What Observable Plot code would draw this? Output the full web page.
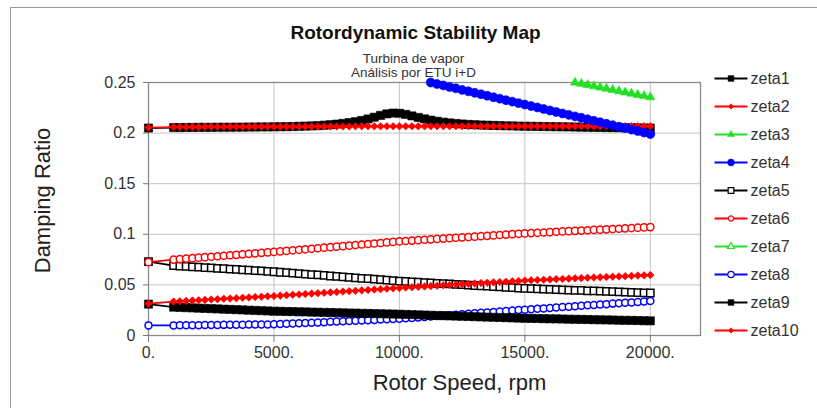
<!DOCTYPE html>
<html>
<head>
<meta charset="utf-8">
<script src="https://cdn.jsdelivr.net/npm/d3@7"></script>
<script src="https://cdn.jsdelivr.net/npm/@observablehq/plot@0.6"></script>
<style>
  body { margin: 0; background: #fff; }
  #wrap { position: relative; width: 817px; height: 408px; overflow: hidden; background: #fff; font-family: "Liberation Sans", Arial, sans-serif; }
  #border { position: absolute; left: 10px; top: 7px; width: 900px; height: 500px; border: 1px solid #9a9a9a; }
  #main { position: absolute; left: 0; top: 0; }
  #legend { position: absolute; left: 700px; top: 60px; }
</style>
</head>
<body>
<div id="wrap"><div id="border"></div><div id="main"></div><div id="legend"></div></div>
<script>
// ---- data ----
const seriesNames = ["zeta1","zeta2","zeta3","zeta4","zeta5","zeta6","zeta7","zeta8","zeta9","zeta10"];
const xTicks = [0, 5000, 10000, 15000, 20000];
const yTicks = [0, 0.05, 0.1, 0.15, 0.2, 0.25];

const rpm = [0,
  1000,1250,1500,1750,2000,2250,2500,2750,3000,3250,3500,3750,4000,4250,4500,4750,5000,
  5250,5500,5750,6000,6250,6500,6750,7000,7250,7500,7750,8000,8250,8500,8750,9000,9250,9500,9750,10000,
  10250,10500,10750,11000,11250,11500,11750,12000,12250,12500,12750,13000,13250,13500,13750,14000,14250,14500,14750,15000,
  15250,15500,15750,16000,16250,16500,16750,17000,17250,17500,17750,18000,18250,18500,18750,19000,19250,19500,19750,20000];

// series values; shorter arrays belong to the last rpm values
const zeta1 = [0.2050,
  0.2055,0.2055,0.2056,0.2056,0.2057,0.2057,0.2057,0.2058,0.2058,0.2058,0.2059,0.2059,0.2060,0.2060,0.2061,0.2061,0.2062,
  0.2063,0.2064,0.2065,0.2067,0.2069,0.2071,0.2074,0.2078,0.2083,0.2089,0.2096,0.2104,0.2113,0.2125,0.2140,0.2157,0.2175,0.2190,0.2198,0.2196,
  0.2185,0.2170,0.2155,0.2141,0.2128,0.2117,0.2108,0.2101,0.2095,0.2090,0.2086,0.2083,0.2080,0.2078,0.2076,0.2074,0.2072,0.2071,0.2069,0.2068,
  0.2067,0.2066,0.2065,0.2064,0.2063,0.2062,0.2061,0.2060,0.2059,0.2058,0.2057,0.2056,0.2055,0.2054,0.2053,0.2052,0.2052,0.2051,0.2050,0.2050];
const zeta2 = [0.2055,
  0.2060,0.2060,0.2061,0.2061,0.2061,0.2062,0.2062,0.2062,0.2062,0.2063,0.2063,0.2063,0.2063,0.2064,0.2064,0.2064,0.2064,
  0.2064,0.2065,0.2065,0.2065,0.2065,0.2065,0.2066,0.2066,0.2066,0.2066,0.2066,0.2066,0.2067,0.2067,0.2067,0.2067,0.2067,0.2067,0.2067,0.2067,
  0.2067,0.2067,0.2067,0.2067,0.2068,0.2068,0.2068,0.2068,0.2068,0.2068,0.2068,0.2068,0.2068,0.2068,0.2068,0.2068,0.2068,0.2068,0.2068,0.2068,
  0.2068,0.2068,0.2068,0.2068,0.2068,0.2068,0.2068,0.2068,0.2068,0.2068,0.2068,0.2068,0.2068,0.2068,0.2068,0.2068,0.2068,0.2068,0.2068,0.2068];
const zeta3 = [0.2500,0.2488,0.2476,0.2464,0.2452,0.2440,0.2428,0.2415,0.2403,0.2391,0.2379,0.2367,0.2355];
const zeta4 = [0.2500,0.2485,0.2471,0.2456,0.2442,0.2427,0.2413,0.2398,0.2384,0.2369,0.2354,0.2340,0.2325,0.2311,0.2296,0.2282,0.2267,0.2253,
  0.2238,0.2223,0.2209,0.2194,0.2180,0.2165,0.2151,0.2136,0.2122,0.2107,0.2092,0.2078,0.2063,0.2049,0.2034,0.2020,0.2005,0.1990];
const zeta5 = [0.0730,
  0.0690,0.0686,0.0683,0.0679,0.0675,0.0671,0.0668,0.0664,0.0660,0.0656,0.0653,0.0649,0.0645,0.0641,0.0638,0.0634,0.0630,
  0.0625,0.0621,0.0616,0.0611,0.0607,0.0602,0.0598,0.0593,0.0588,0.0584,0.0579,0.0574,0.0570,0.0565,0.0561,0.0556,0.0552,0.0547,0.0543,0.0538,
  0.0534,0.0531,0.0527,0.0523,0.0520,0.0516,0.0512,0.0509,0.0505,0.0502,0.0498,0.0494,0.0491,0.0487,0.0483,0.0480,0.0476,0.0472,0.0469,0.0465,
  0.0463,0.0460,0.0458,0.0456,0.0454,0.0451,0.0449,0.0447,0.0445,0.0442,0.0440,0.0438,0.0436,0.0433,0.0431,0.0429,0.0427,0.0424,0.0422,0.0420];
const zeta6 = [0.0725,
  0.0750,0.0755,0.0760,0.0764,0.0769,0.0774,0.0778,0.0783,0.0788,0.0793,0.0797,0.0802,0.0807,0.0812,0.0816,0.0821,0.0826,
  0.0831,0.0836,0.0842,0.0847,0.0852,0.0857,0.0862,0.0868,0.0873,0.0878,0.0883,0.0888,0.0894,0.0899,0.0904,0.0909,0.0914,0.0920,0.0925,0.0930,
  0.0934,0.0938,0.0942,0.0946,0.0950,0.0954,0.0958,0.0962,0.0966,0.0970,0.0973,0.0977,0.0981,0.0985,0.0989,0.0993,0.0997,0.1001,0.1005,0.1009,
  0.1012,0.1015,0.1018,0.1021,0.1025,0.1028,0.1031,0.1034,0.1037,0.1040,0.1043,0.1046,0.1049,0.1052,0.1055,0.1059,0.1062,0.1065,0.1068,0.1071];
const zeta7 = []; // listed in the legend, no visible points in range
const zeta8 = [0.0100,
  0.0100,0.0101,0.0101,0.0102,0.0102,0.0103,0.0104,0.0104,0.0105,0.0106,0.0106,0.0107,0.0108,0.0108,0.0109,0.0109,0.0110,
  0.0113,0.0115,0.0118,0.0121,0.0124,0.0127,0.0129,0.0132,0.0135,0.0138,0.0140,0.0143,0.0146,0.0149,0.0151,0.0154,0.0157,0.0160,0.0162,0.0165,
  0.0170,0.0174,0.0179,0.0183,0.0188,0.0192,0.0197,0.0201,0.0206,0.0210,0.0215,0.0219,0.0224,0.0228,0.0233,0.0237,0.0242,0.0246,0.0251,0.0255,
  0.0259,0.0264,0.0268,0.0272,0.0276,0.0281,0.0285,0.0289,0.0293,0.0298,0.0302,0.0306,0.0310,0.0315,0.0319,0.0323,0.0327,0.0332,0.0336,0.0340];
const zeta9 = [0.0310,
  0.0280,0.0278,0.0275,0.0273,0.0270,0.0268,0.0265,0.0263,0.0260,0.0258,0.0255,0.0253,0.0250,0.0248,0.0245,0.0243,0.0240,
  0.0239,0.0237,0.0236,0.0234,0.0233,0.0231,0.0230,0.0228,0.0227,0.0225,0.0224,0.0222,0.0221,0.0219,0.0218,0.0216,0.0215,0.0213,0.0212,0.0210,
  0.0208,0.0206,0.0204,0.0202,0.0200,0.0198,0.0196,0.0194,0.0192,0.0190,0.0188,0.0186,0.0184,0.0182,0.0180,0.0178,0.0176,0.0174,0.0172,0.0170,
  0.0169,0.0168,0.0166,0.0165,0.0164,0.0163,0.0161,0.0160,0.0159,0.0158,0.0156,0.0155,0.0154,0.0153,0.0151,0.0150,0.0149,0.0148,0.0146,0.0145];
const zeta10 = [0.0315,
  0.0335,0.0338,0.0342,0.0345,0.0349,0.0352,0.0356,0.0359,0.0363,0.0366,0.0369,0.0373,0.0376,0.0380,0.0383,0.0387,0.0390,
  0.0394,0.0398,0.0402,0.0406,0.0410,0.0414,0.0418,0.0422,0.0426,0.0430,0.0434,0.0438,0.0442,0.0446,0.0450,0.0454,0.0458,0.0462,0.0466,0.0470,
  0.0474,0.0477,0.0481,0.0485,0.0488,0.0492,0.0496,0.0499,0.0503,0.0507,0.0510,0.0514,0.0518,0.0521,0.0525,0.0528,0.0532,0.0536,0.0539,0.0543,
  0.0546,0.0548,0.0551,0.0554,0.0557,0.0559,0.0562,0.0565,0.0567,0.0570,0.0573,0.0576,0.0578,0.0581,0.0584,0.0586,0.0589,0.0592,0.0594,0.0597];

const seriesValues = [zeta1, zeta2, zeta3, zeta4, zeta5, zeta6, zeta7, zeta8, zeta9, zeta10];

// ---- styles ----
const RED = "#ff0000", BLUE = "#0000ff", GREEN = "#22e022", BLACK = "#000000";
const styles = [
  {color: BLACK, symbol: "square", open: false, r: 4.6, lr: 3.2},
  {color: RED, symbol: "diamond2", open: false, r: 3.4, lr: 2.4},
  {color: GREEN, symbol: "triangle", open: false, r: 3.4, lr: 2.6},
  {color: BLUE, symbol: "circle", open: false, r: 4.5, lr: 3.4},
  {color: BLACK, symbol: "square", open: true, r: 4.1, lr: 3.2},
  {color: RED, symbol: "circle", open: true, r: 3.6, lr: 2.6},
  {color: GREEN, symbol: "triangle", open: true, r: 3.2, lr: 2.6},
  {color: BLUE, symbol: "circle", open: true, r: 3.5, lr: 3.2},
  {color: BLACK, symbol: "square", open: false, r: 4.6, lr: 3.2},
  {color: RED, symbol: "diamond2", open: false, r: 3.4, lr: 2.4}
];

seriesValues.forEach((v, i) => {
  if (v.length > rpm.length) throw new Error(seriesNames[i] + " too long: " + v.length);
});
if (rpm.length !== 78 || zeta1.length !== 78 || zeta5.length !== 78) throw new Error("length mismatch");

const seriesData = seriesNames.map((name, i) => {
  const vals = seriesValues[i];
  const off = rpm.length - vals.length;
  return vals.map((v, j) => ({series: name, rpm: rpm[off + j], value: v}));
});

const FONT = "'Liberation Sans', Arial, sans-serif";
const fx = 148, fy = 82; // frame origin, used only to place titles relative to frame

const marks = [
  Plot.gridX(xTicks, {stroke: "#c4c4c4", strokeOpacity: 1, strokeWidth: 1}),
  Plot.gridY(yTicks, {stroke: "#c4c4c4", strokeOpacity: 1, strokeWidth: 1}),
  Plot.frame({stroke: "#8a8a8a", strokeWidth: 1.3})
];
seriesData.forEach((rows, i) => {
  const s = styles[i];
  if (!rows.length) return;
  marks.push(Plot.line(rows, {x: "rpm", y: "value", stroke: s.color, strokeWidth: 1.8}));
  marks.push(Plot.dot(rows, {
    x: "rpm", y: "value", symbol: () => s.symbol, r: s.r,
    fill: s.open ? "#ffffff" : s.color,
    stroke: s.color, strokeWidth: s.open ? 1.5 : 0.6
  }));
});
const T = {frameAnchor: "top-left", lineAnchor: "middle", text: d => d};
marks.push(
  Plot.axisX(xTicks, {tickSize: 7, tickPadding: 4, fontSize: 16, tickFormat: d => d + ".", color: "#333", stroke: "#777", label: null}),
  Plot.axisY(yTicks, {tickSize: 5, tickPadding: 8, fontSize: 16, tickFormat: d => String(d), color: "#333", stroke: "#777", label: null}),
  Plot.text(["Rotordynamic Stability Map"], {...T, dx: 415 - fx, dy: 32 - fy, textAnchor: "middle", fontSize: 19, fontWeight: "bold", fill: "#111"}),
  Plot.text(["Turbina de vapor"], {...T, dx: 413 - fx, dy: 58 - fy, textAnchor: "middle", fontSize: 13.5, fill: "#333"}),
  Plot.text(["Análisis por ETU i+D"], {...T, dx: 413 - fx, dy: 72 - fy, textAnchor: "middle", fontSize: 13.5, fill: "#333"}),
  Plot.text(["Rotor Speed, rpm"], {...T, dx: 459 - fx, dy: 382 - fy, textAnchor: "middle", fontSize: 22, fill: "#222"}),
  Plot.text(["Damping Ratio"], {...T, dx: 42 - fx, dy: 200 - fy, textAnchor: "middle", rotate: -90, fontSize: 22, fill: "#222"})
);

const chart = Plot.plot({
  width: 817, height: 408,
  marginLeft: 148, marginRight: 117, marginTop: 82, marginBottom: 73,
  style: {fontFamily: FONT, background: "transparent", overflow: "visible"},
  x: {domain: [0, 22000]},
  y: {domain: [0, 0.25]},
  marks
});
document.getElementById("main").appendChild(chart);

// ---- legend ----
const legendRows = seriesNames.map((name, i) => ({name, ...styles[i]}));
const lmarks = [];
legendRows.forEach(s => {
  lmarks.push(Plot.link([s], {x1: () => 0, x2: () => 1, y1: d => d.name, y2: d => d.name, stroke: s.color, strokeWidth: 2}));
  lmarks.push(Plot.dot([s], {x: () => 0.5, y: d => d.name, symbol: () => s.symbol, r: s.lr,
    fill: s.open ? "#ffffff" : s.color, stroke: s.color, strokeWidth: s.open ? 1.2 : 0.6}));
  lmarks.push(Plot.text([s], {x: () => 1, y: d => d.name, text: d => d.name, textAnchor: "start", dx: 3, fontSize: 16, fill: "#333"}));
});
const legend = Plot.plot({
  width: 117, height: 290,
  margin: 0,
  style: {fontFamily: FONT, background: "transparent", overflow: "visible"},
  x: {domain: [0, 1], range: [14, 47], axis: null},
  y: {type: "point", domain: seriesNames, range: [15, 272], padding: 0, axis: null},
  marks: lmarks
});
document.getElementById("legend").appendChild(legend);
</script>
</body>
</html>
